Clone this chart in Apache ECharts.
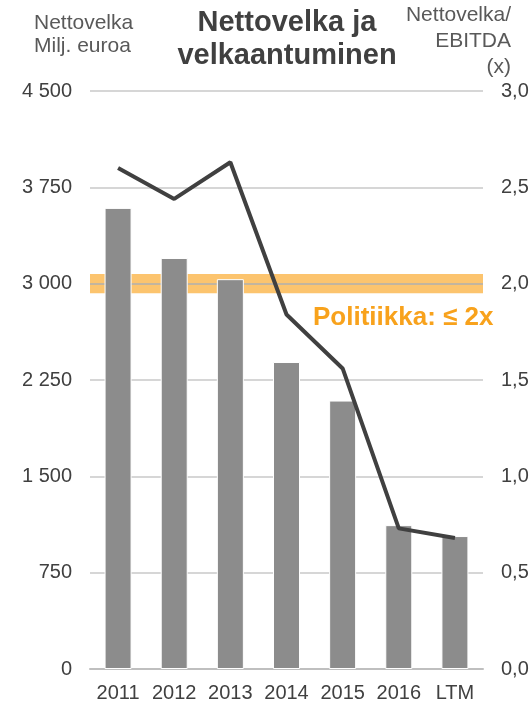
<!DOCTYPE html>
<html>
<head>
<meta charset="utf-8">
<script src="https://cdn.jsdelivr.net/npm/echarts@6/dist/echarts.min.js"></script>
<style>
html,body{margin:0;padding:0;background:#fff;}
#chart{width:532px;height:703px;}
</style>
</head>
<body>
<div id="chart"></div>
<script>
var categories = ['2011', '2012', '2013', '2014', '2015', '2016', 'LTM'];
var netDebt = [3590, 3200, 3035, 2390, 2090, 1120, 1035];
var leverage = [2.60, 2.44, 2.63, 1.84, 1.56, 0.73, 0.68];
var leftTickLabels = ['0', '750', '1 500', '2 250', '3 000', '3 750', '4 500'];
var rightTickLabels = ['0,0', '0,5', '1,0', '1,5', '2,0', '2,5', '3,0'];
var policyLimit = 2.0;
var policyBand = [1.95, 2.05];
var titleText = 'Nettovelka ja\nvelkaantuminen';
var leftHeader = 'Nettovelka\nMilj. euroa';
var rightHeader = 'Nettovelka/\nEBITDA\n(x)';
var policyText = 'Politiikka: \u2264 2x';

var FONT = '"Liberation Sans", Arial, sans-serif';
var TXT = '#404040';
var chart = echarts.init(document.getElementById('chart'), null, {renderer: 'canvas'});

chart.setOption({
  animation: false,
  backgroundColor: '#fff',
  textStyle: {fontFamily: FONT},
  grid: {left: 90, right: 49, top: 91, bottom: 34, containLabel: false},
  graphic: [
    {type: 'text', x: 287, y: 6, z: 10, style: {text: titleText, font: 'bold 29px ' + FONT, fill: '#404040', align: 'center', verticalAlign: 'top', lineHeight: 33}},
    {type: 'text', x: 34, y: 12, style: {text: leftHeader, font: '21px ' + FONT, fill: '#595959', align: 'left', verticalAlign: 'top', lineHeight: 23}},
    {type: 'text', x: 511, y: 2, style: {text: rightHeader, font: '21px ' + FONT, fill: '#595959', align: 'right', verticalAlign: 'top', lineHeight: 26}},
    {type: 'text', x: 313, y: 305, z: 10, style: {text: policyText, font: 'bold 26px ' + FONT, fill: '#f8a21c', align: 'left', verticalAlign: 'top'}}
  ],
  xAxis: {
    type: 'category',
    data: categories,
    axisTick: {show: false},
    axisLine: {lineStyle: {color: '#bfbfbf', width: 2}},
    axisLabel: {color: TXT, fontSize: 20, fontFamily: FONT, margin: 14, interval: 0}
  },
  yAxis: [
    {
      type: 'value', min: 0, max: 4500, interval: 750,
      axisLine: {show: false}, axisTick: {show: false},
      splitLine: {lineStyle: {color: '#c8c8c8', width: 1.5}},
      axisLabel: {color: TXT, fontSize: 20, fontFamily: FONT, margin: 18,
        formatter: function (v) { return leftTickLabels[Math.round(v / 750)]; }}
    },
    {
      type: 'value', min: 0, max: 3, interval: 0.5,
      axisLine: {show: false}, axisTick: {show: false},
      splitLine: {show: false},
      axisLabel: {color: TXT, fontSize: 20, fontFamily: FONT, margin: 18,
        formatter: function (v) { return rightTickLabels[Math.round(v / 0.5)]; }}
    }
  ],
  series: [
    {
      name: 'Nettovelka',
      type: 'bar',
      data: netDebt,
      yAxisIndex: 0,
      barWidth: 27,
      z: 2,
      itemStyle: {color: '#8c8c8c', borderColor: '#ffffff', borderWidth: 1}
    },
    {
      name: 'Nettovelka/EBITDA',
      type: 'line',
      data: leverage,
      yAxisIndex: 1,
      z: 3,
      symbol: 'none',
      lineStyle: {color: '#404040', width: 4},
      markArea: {
        silent: true,
        z: 1,
        itemStyle: {color: '#fcc46e'},
        data: [[{yAxis: policyBand[0]}, {yAxis: policyBand[1]}]]
      },
      markLine: {
        silent: true,
        z: 1.5,
        symbol: 'none',
        label: {show: false},
        lineStyle: {color: '#b0b0b0', width: 1.5, type: 'solid'},
        data: [{yAxis: policyLimit}]
      }
    }
  ]
});
</script>
</body>
</html>
